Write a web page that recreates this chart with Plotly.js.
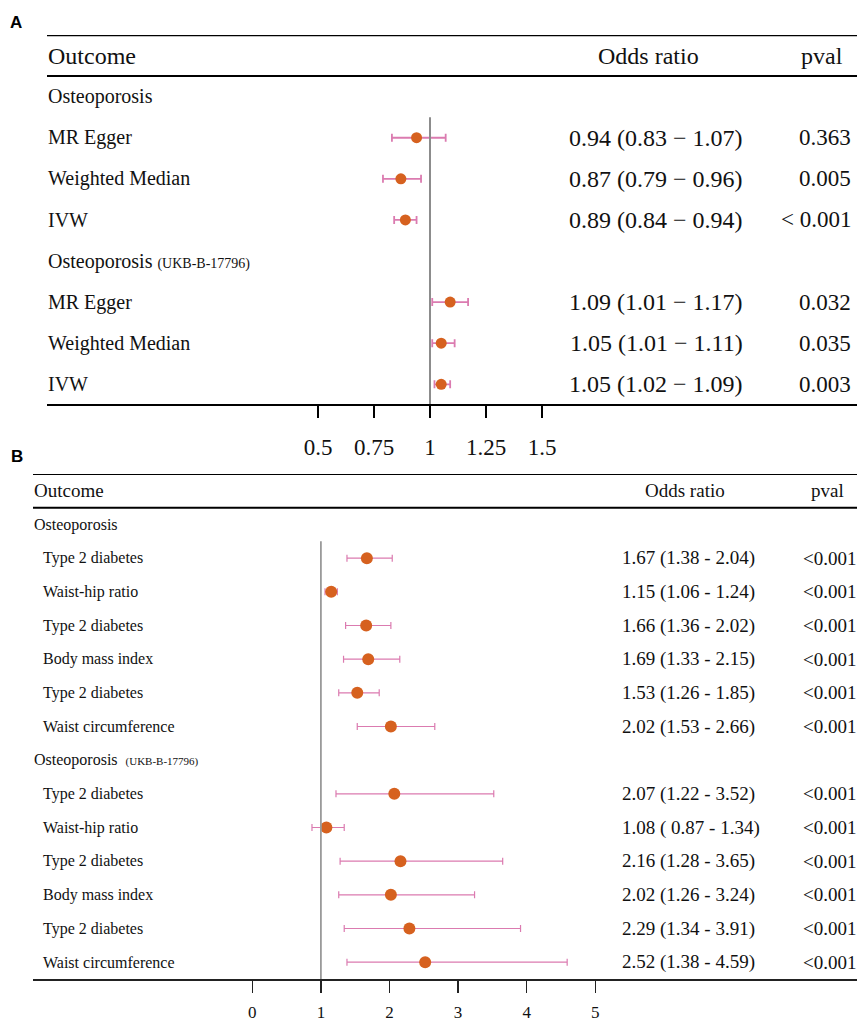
<!DOCTYPE html>
<html>
<head>
<meta charset="utf-8">
<script src="https://cdn.plot.ly/plotly-3.0.1.min.js"></script>
<style>html,body{margin:0;padding:0;background:#fff;}#chart{width:857px;height:1022px;}</style>
</head>
<body>
<div id="chart"></div>
<script>
// ---------- Panel A data ----------
const groupsA = ["Osteoporosis", "Osteoporosis"];
const groupNotesA = ["", "(UKB-B-17796)"];
const methodsA = ["MR Egger", "Weighted Median", "IVW", "MR Egger", "Weighted Median", "IVW"];
const groupOfA = [0, 0, 0, 1, 1, 1];
const orA = [0.94, 0.87, 0.89, 1.09, 1.05, 1.05];
const loA = [0.83, 0.79, 0.84, 1.01, 1.01, 1.02];
const hiA = [1.07, 0.96, 0.94, 1.17, 1.11, 1.09];
const pvalA = ["0.363", "0.005", "< 0.001", "0.032", "0.035", "0.003"];
const tickValsA = [0.5, 0.75, 1, 1.25, 1.5];
const tickTextA = ["0.5", "0.75", "1", "1.25", "1.5"];

// ---------- Panel B data ----------
const groupsB = ["Osteoporosis", "Osteoporosis"];
const groupNotesB = ["", "(UKB-B-17796)"];
const exposuresB = ["Type 2 diabetes", "Waist-hip ratio", "Type 2 diabetes", "Body mass index", "Type 2 diabetes", "Waist circumference",
                    "Type 2 diabetes", "Waist-hip ratio", "Type 2 diabetes", "Body mass index", "Type 2 diabetes", "Waist circumference"];
const groupOfB = [0, 0, 0, 0, 0, 0, 1, 1, 1, 1, 1, 1];
const orB = [1.67, 1.15, 1.66, 1.69, 1.53, 2.02, 2.07, 1.08, 2.16, 2.02, 2.29, 2.52];
const loB = [1.38, 1.06, 1.36, 1.33, 1.26, 1.53, 1.22, 0.87, 1.28, 1.26, 1.34, 1.38];
const hiB = [2.04, 1.24, 2.02, 2.15, 1.85, 2.66, 3.52, 1.34, 3.65, 3.24, 3.91, 4.59];
const pvalB = ["<0.001", "<0.001", "<0.001", "<0.001", "<0.001", "<0.001",
               "<0.001", "<0.001", "<0.001", "<0.001", "<0.001", "<0.001"];
const tickValsB = [0, 1, 2, 3, 4, 5];
const tickTextB = ["0", "1", "2", "3", "4", "5"];

// ---------- layout helpers ----------
const W = 857, H = 1022;
const SERIF = "Liberation Serif, Times New Roman, serif";
const px = v => v / W;
const py = v => 1 - v / H;
const dotColor = "#D6611F";
const barColor = "#DB7BB0";

// build row positions: header of each group gets a row, each item gets a row
function buildRows(groupOf) {
  const rows = [], headerRows = [];
  let r = 0, last = -1;
  groupOf.forEach(g => {
    if (g !== last) { headerRows.push(r); r++; last = g; }
    rows.push(r); r++;
  });
  return { rows, headerRows, n: r };
}
const RA = buildRows(groupOfA);
const RB = buildRows(groupOfB);

const traces = [
  {
    type: "scatter", mode: "markers", xaxis: "x", yaxis: "y",
    x: orA, y: RA.rows,
    marker: { color: dotColor, size: 11 },
    error_x: {
      type: "data", symmetric: false,
      array: hiA.map((h, i) => h - orA[i]),
      arrayminus: loA.map((l, i) => orA[i] - l),
      color: barColor, thickness: 1.8, width: 4
    },
    hoverinfo: "skip", showlegend: false
  },
  {
    type: "scatter", mode: "markers", xaxis: "x2", yaxis: "y2",
    x: orB, y: RB.rows,
    marker: { color: dotColor, size: 12 },
    error_x: {
      type: "data", symmetric: false,
      array: hiB.map((h, i) => h - orB[i]),
      arrayminus: loB.map((l, i) => orB[i] - l),
      color: barColor, thickness: 1.2, width: 3.5
    },
    hoverinfo: "skip", showlegend: false
  }
];

const ann = [];
const shapes = [];
function txt(x, y, yref, text, size, anchor, extra) {
  ann.push(Object.assign({
    xref: "paper", yref: yref, x: x, y: y, text: text, showarrow: false,
    xanchor: anchor, yanchor: "middle",
    font: { family: SERIF, size: size, color: "#111" }
  }, extra || {}));
}

// ----- Panel A text -----
ann.push({ xref: "paper", yref: "paper", x: px(16), y: py(22), text: "<b>A</b>", showarrow: false,
  xanchor: "center", yanchor: "middle", font: { family: "Liberation Sans, Arial, sans-serif", size: 17, color: "#000" } });
txt(px(46), -1, "y", "Outcome", 24, "left");
txt(px(648), -1, "y", "Odds ratio", 24, "center");
txt(px(822), -1, "y", "pval", 24, "center");
RA.headerRows.forEach((r, g) => {
  const note = groupNotesA[g] ? ' <span style="font-size:14px">' + groupNotesA[g] + '</span>' : "";
  txt(px(46), r, "y", groupsA[g] + note, 20, "left");
});
methodsA.forEach((m, i) => {
  const r = RA.rows[i];
  txt(px(46), r, "y", m, 20, "left");
  txt(px(745), r, "y", orA[i].toFixed(2) + " (" + loA[i].toFixed(2) + " \u2212 " + hiA[i].toFixed(2) + ")", 24, "right");
  txt(px(853), r, "y", pvalA[i], 23, "right");
});
shapes.push({ type: "line", xref: "paper", yref: "y", x0: px(47), x1: 1, y0: -1.5, y1: -1.5, line: { color: "#000", width: 2.5 } });
shapes.push({ type: "line", xref: "paper", yref: "y", x0: px(47), x1: 1, y0: -0.5, y1: -0.5, line: { color: "#000", width: 2 } });
shapes.push({ type: "line", xref: "x", yref: "y", x0: 1, x1: 1, y0: 0.5, y1: RA.n - 0.5, line: { color: "#8c8c8c", width: 2 } });

// ----- Panel B text -----
ann.push({ xref: "paper", yref: "paper", x: px(17), y: py(457), text: "<b>B</b>", showarrow: false,
  xanchor: "center", yanchor: "middle", font: { family: "Liberation Sans, Arial, sans-serif", size: 17, color: "#000" } });
txt(px(32), -1, "y2", "Outcome", 19, "left");
txt(px(685), -1, "y2", "Odds ratio", 19, "center");
txt(px(827), -1, "y2", "pval", 19, "center");
RB.headerRows.forEach((r, g) => {
  const note = groupNotesB[g] ? '&nbsp;&nbsp;<span style="font-size:11px">' + groupNotesB[g] + '</span>' : "";
  txt(px(32), r, "y2", groupsB[g] + note, 16, "left");
});
exposuresB.forEach((e, i) => {
  const r = RB.rows[i];
  const lo = (loB[i] < 1 ? " " : "") + loB[i].toFixed(2);
  txt(px(41), r, "y2", e, 16, "left");
  txt(px(620), r, "y2", orB[i].toFixed(2) + " (" + lo + " - " + hiB[i].toFixed(2) + ")", 19, "left");
  txt(px(801), r, "y2", pvalB[i], 19, "left");
});
shapes.push({ type: "line", xref: "paper", yref: "y2", x0: px(33), x1: 1, y0: -1.5, y1: -1.5, line: { color: "#000", width: 2 } });
shapes.push({ type: "line", xref: "paper", yref: "y2", x0: px(33), x1: 1, y0: -0.5, y1: -0.5, line: { color: "#000", width: 2 } });
shapes.push({ type: "line", xref: "x2", yref: "y2", x0: 1, x1: 1, y0: 0.5, y1: RB.n - 0.5, line: { color: "#9a9a9a", width: 1.8 } });

const layout = {
  width: W, height: H,
  margin: { l: 0, r: 0, t: 0, b: 0, pad: 0 },
  paper_bgcolor: "#fff", plot_bgcolor: "rgba(0,0,0,0)",
  showlegend: false,
  xaxis: {
    domain: [px(47), 1], range: [1 - 383 / 224, 1 + 427 / 224], anchor: "y",
    showgrid: false, zeroline: false, showline: true, linecolor: "#000", linewidth: 2,
    ticks: "outside", ticklen: 12, tickwidth: 1.5, tickcolor: "#000",
    tickmode: "array", tickvals: tickValsA, ticktext: tickTextA,
    tickfont: { family: SERIF, size: 23, color: "#111" }, ticklabelstandoff: 9
  },
  yaxis: {
    domain: [py(404), py(35)], range: [RA.n - 0.52, -1.5], anchor: "x",
    visible: false, showgrid: false, zeroline: false
  },
  xaxis2: {
    domain: [px(33), 1], range: [-(252.3 - 33) / 68.6, (857 - 252.3) / 68.6], anchor: "y2",
    showgrid: false, zeroline: false, showline: true, linecolor: "#222", linewidth: 2,
    ticks: "outside", ticklen: 12, tickwidth: 1.3, tickcolor: "#222",
    tickmode: "array", tickvals: tickValsB, ticktext: tickTextB,
    tickfont: { family: SERIF, size: 17, color: "#111" }, ticklabelstandoff: 5
  },
  yaxis2: {
    domain: [py(979), py(474)], range: [RB.n - 0.5, -1.5], anchor: "x2",
    visible: false, showgrid: false, zeroline: false
  },
  annotations: ann,
  shapes: shapes
};

Plotly.newPlot("chart", traces, layout, { staticPlot: true, displayModeBar: false });
</script>
</body>
</html>
